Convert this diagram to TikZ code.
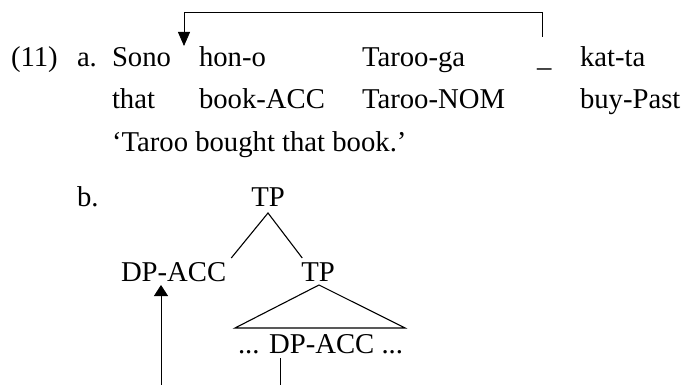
\documentclass[tikz,border=0pt]{standalone}
\usepackage{fontspec}
\setmainfont{Liberation Serif}
\usetikzlibrary{arrows.meta,calc}
\begin{document}
\begin{tikzpicture}[x=1pt,y=-1pt,
  every node/.style={inner sep=0pt,outer sep=0pt,font=\fontsize{28.7}{34}\selectfont},
  txt/.style={anchor=base west},
  ctr/.style={anchor=base},
  tree/.style={line width=1.1pt},
  mv/.style={line width=0.8pt},
  tipd/.style={-{Triangle[width=12pt,length=14pt]}},
  tipu/.style={-{Triangle[width=14pt,length=11pt]}}]
\useasboundingbox (0,0) rectangle (686,385);
% row 1
\node[txt] (n11) at (11,67) {(11)};
\node[txt] (a) at (77,67) {a.};
\node[txt] (sono) at (112,67) {Sono};
\node[txt] (hono) at (199,67) {hon-o};
\node[txt] (tarooga) at (362,67) {Taroo-ga};
\node[txt] (gap) at (537,67) {\_};
\node[txt] (katta) at (580,67) {kat-ta};
% row 2
\node[txt] (that) at (112,109) {that};
\node[txt] (bookacc) at (199,109) {book-ACC};
\node[txt] (taroonom) at (362,109) {Taroo-NOM};
\node[txt] (buypast) at (580,109) {buy-Past};
% row 3
\node[txt] (transl) at (112,152) {‘Taroo bought that book.’};
% b.
\node[txt] (b) at (77,207) {b.};
\node[ctr] (tp) at (268,207) {TP};
\node[txt] (dpacc) at (121,281) {DP-ACC};
\node[ctr] (tp2) at (318,281) {TP};
\node[txt] (dots) at (238,353) {... DP-ACC ...};
% tree lines
\coordinate (tpb) at ([yshift=-6pt]tp.base);
\coordinate (dpend) at ([xshift=5pt,yshift=23pt]dpacc.base east);
\coordinate (tp2end) at ([xshift=1pt,yshift=23pt]tp2.base west);
\draw[tree] (dpend) -- (tpb) -- (tp2end);
% triangle
\coordinate (apex) at ([xshift=1pt,yshift=-4pt]tp2.base);
\coordinate (tl) at ([xshift=-3pt,yshift=25pt]dots.base west);
\coordinate (tr) at ([xshift=2pt,yshift=25pt]dots.base east);
\draw[tree] (tl) -- (apex) -- (tr) -- cycle;
% movement arrows (tree)
\coordinate (uptip) at ([xshift=40pt,yshift=-4pt]dpacc.base west);
\coordinate (upbot) at (161,385);
\draw[mv,tipu] (upbot) -- (uptip);
\coordinate (dstart) at ([xshift=42pt,yshift=-5pt]dots.base west);
\coordinate (dbot) at (280,385);
\draw[mv] (dstart) -- (dbot);
% movement arrow (sentence)
\coordinate (gaptop) at ([xshift=5pt,yshift=30pt]gap.base west);
\coordinate (dntip) at ([xshift=-15pt,yshift=21pt]hono.base west);
\draw[mv,tipd] (gaptop) -- (gaptop |- 0,12) -- (dntip |- 0,12) -- (dntip);
\end{tikzpicture}
\end{document}
